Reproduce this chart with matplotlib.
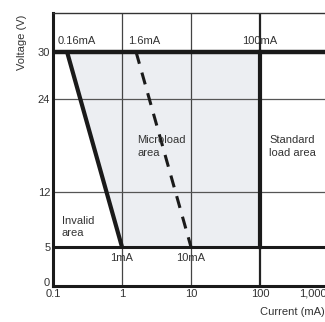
import numpy as np
import matplotlib.pyplot as plt
import matplotlib.transforms as mtransforms

# %% Data
region_current = [0.16, 100, 100, 1]      # mA, polygon of the microload area
region_voltage = [30, 30, 5, 5]           # V
invalid_line_x = [0.16, 1]
invalid_line_y = [30, 5]
micro_line_x = [1.6, 10]
micro_line_y = [30, 5]
xticks = [0.1, 1, 10, 100, 1000]
xticklabels = ['0.1', '1', '10', '100', '1,000']
yticks = [0, 5, 12, 24, 30]
top_labels = [(0.118, 'left', '0.16mA'), (1.22, 'left', '1.6mA'), (100, 'center', '100mA')]
bottom_labels = [(1, '1mA'), (10, '10mA')]

plt.rcParams['font.family'] = ['Liberation Sans', 'DejaVu Sans']
txtc = '#333333'
fs = 8

fig = plt.figure(figsize=(3.25, 3.22), dpi=100)
W, H = 325, 322
x0, x1 = 53, 329
y0, y1 = 286, 13
ax = fig.add_axes([x0 / W, 1 - y0 / H, (x1 - x0) / W, (y0 - y1) / H])
ax.set_xscale('log')
ax.set_xlim(0.1, 1000)
ax.set_ylim(0, 35)

# grid
for xv in [1, 10]:
    ax.axvline(xv, color='#444444', lw=0.9, zorder=1)
ax.axvline(100, color='#222222', lw=1.6, zorder=1)
for yv in [12, 24]:
    ax.axhline(yv, color='#555555', lw=0.9, zorder=1)

# shaded area
ax.fill(region_current, region_voltage, color='#eceef2', zorder=0.5, lw=0)
ax.axhline(30, color='#1a1a1a', lw=3.2, zorder=3)
ax.axhline(5, color='#1a1a1a', lw=2.2, zorder=3)
ax.plot([100, 100], [5, 30], color='#1a1a1a', lw=3.0, zorder=3)
ax.plot(invalid_line_x, invalid_line_y, color='#1a1a1a', lw=3.0, zorder=3,
        solid_capstyle='butt')
ax.plot(micro_line_x, micro_line_y, color='#1a1a1a', lw=2.2, ls=(0, (4, 3)),
        zorder=3)

# point annotations
for xv, ha, s in top_labels:
    ax.text(xv, 31.4, s, fontsize=fs, color=txtc, ha=ha, va='center')
for xv, s in bottom_labels:
    ax.text(xv, 3.6, s, fontsize=fs, color=txtc, ha='center', va='center')

ax.text(1.65, 17.9, 'Microload\narea', fontsize=fs, color=txtc, ha='left',
        va='center', linespacing=1.3)
ax.text(135, 17.9, 'Standard\nload area', fontsize=fs, color=txtc, ha='left',
        va='center', linespacing=1.3)
ax.text(0.135, 7.6, 'Invalid\narea', fontsize=fs, color=txtc, ha='left',
        va='center', linespacing=1.3)

# axes style
ax.set_xticks(xticks)
ax.set_xticklabels(xticklabels)
ax.set_yticks(yticks)
ax.minorticks_off()
ax.tick_params(length=0, labelsize=fs, labelcolor=txtc, pad=2)
for side in ['left', 'bottom']:
    ax.spines[side].set_linewidth(2.2)
    ax.spines[side].set_color('#1a1a1a')
for side in ['top', 'right']:
    ax.spines[side].set_linewidth(1.0)
    ax.spines[side].set_color('#333333')

# nudge edge tick labels like the reference
last = ax.get_xticklabels()[-1]
last.set_transform(last.get_transform() +
                   mtransforms.ScaledTranslation(-16 / 100, 0, fig.dpi_scale_trans))
zero = ax.get_yticklabels()[0]
zero.set_transform(zero.get_transform() +
                   mtransforms.ScaledTranslation(0, 4 / 100, fig.dpi_scale_trans))

fig.text(22 / W, 1 - 42 / H, 'Voltage (V)', rotation=90, fontsize=fs,
         color=txtc, ha='center', va='center')
fig.text(1.0, 1 - 312 / H, 'Current (mA)', fontsize=fs, color=txtc,
         ha='right', va='center')

fig.savefig('out.png', dpi=100)
